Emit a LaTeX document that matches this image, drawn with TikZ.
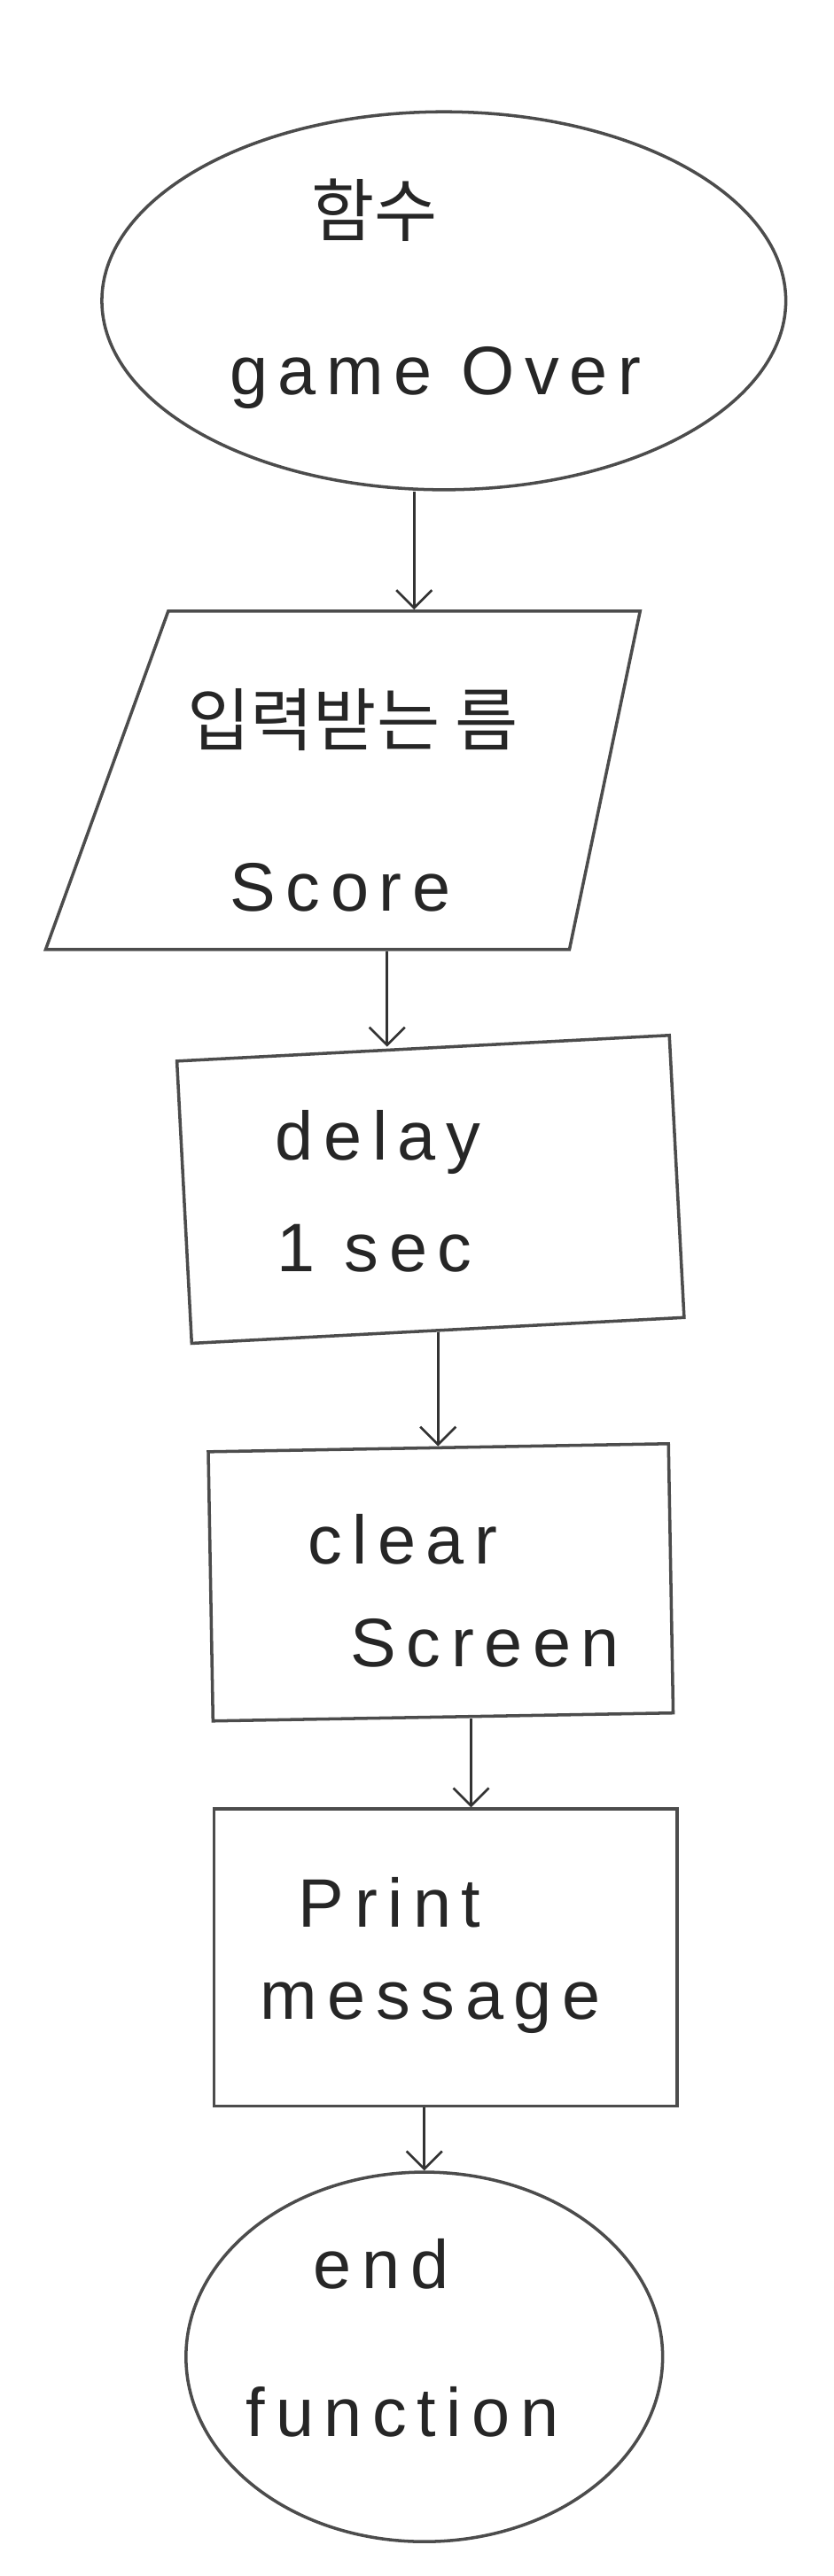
\documentclass[tikz,border=0pt]{standalone}
\usepackage{fontspec}
\setmainfont{Liberation Sans}
\newfontfamily\handfont[LetterSpace=15]{Liberation Sans}
\newfontfamily\kofont{Noto Sans CJK KR}
\usetikzlibrary{shapes.geometric,arrows.meta}
\begin{document}
\begin{tikzpicture}[
  shp/.style={draw=black!70, line width=2pt, inner sep=0pt},
  term/.style={shp, ellipse},
  iobox/.style={shp, trapezium, trapezium left angle=73, trapezium right angle=100, trapezium stretches, inner sep=2pt},
  procbox/.style={shp, rectangle},
  txt/.style={font=\handfont\fontsize{44}{50}\selectfont, text=black!85},
  kotxt/.style={font=\kofont\fontsize{44}{50}\selectfont, text=black!85},
  arr/.style={draw=black!80, line width=1.5pt, -{Straight Barb[length=4mm,width=8mm]}}
]
\useasboundingbox (0,0) rectangle (18.78,-58.07);
\node[term, minimum width=15.41cm, minimum height=8.52cm] (start) at (10.0,-6.78) {};
\node[iobox, minimum width=13.4cm, minimum height=7.63cm] (io) at (8.31,-17.59) {};
\node[procbox, rotate=3, minimum width=11.11cm, minimum height=6.37cm] (delay) at (9.70,-26.81) {};
\node[procbox, rotate=1, minimum width=10.37cm, minimum height=6.07cm] (clear) at (9.93,-35.67) {};
\node[procbox, minimum width=10.44cm, minimum height=6.70cm] (print) at (10.04,-44.13) {};
\node[term, minimum width=10.74cm, minimum height=8.33cm] (finish) at (9.56,-53.13) {};
\node[kotxt] (lblfunc) at (8.44,-4.74) {함수};
\node[txt] (lblgame) at (9.81,-8.52) {game Over};
\node[kotxt] (lblinput) at (7.95,-16.22) {입력받는 름};
\node[txt] (lblscore) at (7.67,-20.0) {Score};
\node[txt] (lbldelay) at (8.52,-25.74) {delay};
\node[txt] (lblsec) at (8.44,-28.15) {1 sec};
\node[txt] (lblclear) at (9.07,-34.7) {clear};
\node[txt] (lblscreen) at (10.93,-37.04) {Screen};
\node[txt] (lblprint) at (8.78,-42.89) {Print};
\node[txt] (lblmsg) at (9.70,-45.26) {message};
\node[txt] (lblend) at (8.59,-51.04) {end};
\node[txt] (lblfunction) at (9.07,-54.37) {function};
\draw[arr] ([xshift=-6.7mm]start.south) -- ([xshift=-6.7mm]start.south |- io.north);
\draw[arr] ([xshift=-8.1mm]delay.north |- io.south) -- ([xshift=-8.1mm]delay.north);
\draw[arr] (delay.south) -- (delay.south |- clear.north);
\draw[arr] ([xshift=6.3mm]clear.south) -- ([xshift=6.3mm]clear.south |- print.north);
\draw[arr] ([xshift=-4.8mm]print.south) -- ([xshift=-4.8mm]print.south |- finish.north);
\end{tikzpicture}
\end{document}
